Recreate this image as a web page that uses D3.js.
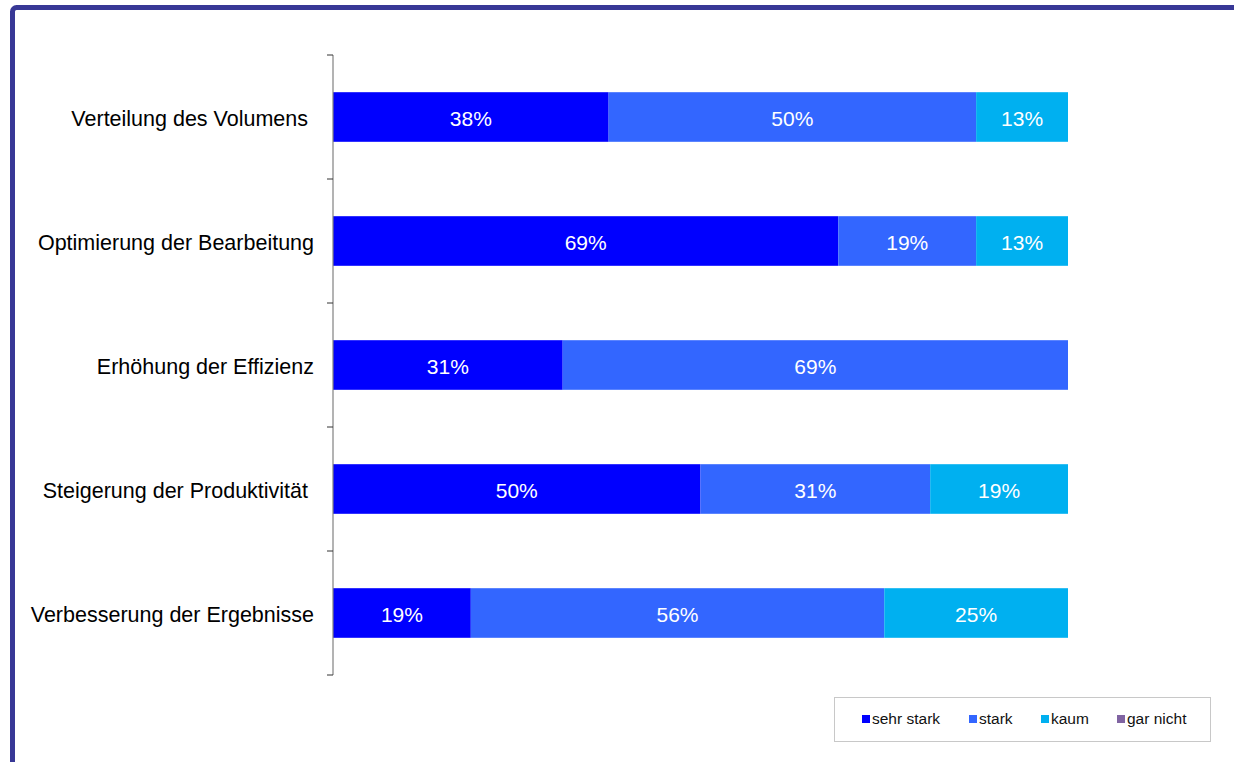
<!DOCTYPE html>
<html><head><meta charset="utf-8">
<script src="https://cdn.jsdelivr.net/npm/d3@7"></script>
<style>
html,body{margin:0;padding:0;background:#fff;}
svg{display:block;font-family:"Liberation Sans",Arial,sans-serif;}
</style></head>
<body><svg id="chart" width="1234" height="762"></svg>
<script>
const categories = ["Verteilung des Volumens ", "Optimierung der Bearbeitung", "Erhöhung der Effizienz", "Steigerung der Produktivität ", "Verbesserung der Ergebnisse"];
const seriesNames = ["sehr stark", "stark", "kaum", "gar nicht"];
const seriesColors = ["#0000ff", "#3366ff", "#00b0f0", "#8064a2"];
const sehrStark = [37.5, 68.75, 31.25, 50, 18.75];
const stark = [50, 18.75, 68.75, 31.25, 56.25];
const kaum = [12.5, 12.5, 0, 18.75, 25];
const garNicht = [0, 0, 0, 0, 0];

const svg = d3.select("#chart");

// frame
svg.append("rect").attr("x", 12.5).attr("y", 7.5).attr("width", 1260).attr("height", 800)
  .attr("rx", 4).attr("fill", "none").attr("stroke", "#383896").attr("stroke-width", 5);

const pLeft = 333, pRight = 1068, pTop = 55, pBottom = 675;
const x = d3.scaleLinear().domain([0, 100]).range([pLeft, pRight]);
const y = d3.scaleBand().domain(categories).range([pTop, pBottom]).paddingInner(0.6).paddingOuter(0.3);

const rows = categories.map((c, i) => ({cat: c, "sehr stark": sehrStark[i], "stark": stark[i], "kaum": kaum[i], "gar nicht": garNicht[i]}));
const stack = d3.stack().keys(seriesNames)(rows);

const g = svg.append("g");
stack.forEach((layer, li) => {
  layer.forEach(d => {
    const v = d[1] - d[0];
    if (v <= 0) return;
    g.append("rect")
      .attr("x", x(d[0])).attr("y", y(d.data.cat))
      .attr("width", x(d[1]) - x(d[0])).attr("height", y.bandwidth())
      .attr("fill", seriesColors[li]);
    g.append("text")
      .attr("x", (x(d[0]) + x(d[1])) / 2).attr("y", y(d.data.cat) + y.bandwidth() / 2 + 1.5)
      .attr("dy", "0.35em").attr("text-anchor", "middle")
      .attr("fill", "#fff").attr("font-size", 21)
      .text(Math.round(v) + "%");
  });
});

// axis with ticks at band boundaries
const yAxisG = svg.append("g");
yAxisG.append("line").attr("x1", pLeft).attr("x2", pLeft).attr("y1", pTop).attr("y2", pBottom)
  .attr("stroke", "#808080").attr("stroke-width", 1.2);
const bounds = d3.range(categories.length + 1).map(i => pTop + i * (pBottom - pTop) / categories.length);
bounds.forEach(b => {
  yAxisG.append("line").attr("x1", pLeft - 6).attr("x2", pLeft).attr("y1", b).attr("y2", b)
    .attr("stroke", "#333").attr("stroke-width", 1);
});
categories.forEach(c => {
  yAxisG.append("text").attr("x", 314).attr("y", y(c) + y.bandwidth() / 2 + 1)
    .attr("dy", "0.35em").attr("text-anchor", "end").attr("font-size", 21.5)
    .attr("fill", "#000").style("white-space", "pre").text(c);
});

// legend
const lg = svg.append("g");
lg.append("rect").attr("x", 834.5).attr("y", 697.5).attr("width", 376).attr("height", 44)
  .attr("fill", "#fff").attr("stroke", "#c8c8c8").attr("stroke-width", 1);
const legendX = [862, 969, 1041, 1117];
seriesNames.forEach((s, i) => {
  lg.append("rect").attr("x", legendX[i]).attr("y", 715).attr("width", 8).attr("height", 8).attr("fill", seriesColors[i]);
  lg.append("text").attr("x", legendX[i] + 10).attr("y", 719).attr("dy", "0.35em")
    .attr("font-size", 15.5).attr("fill", "#111").text(s);
});
</script></body></html>
